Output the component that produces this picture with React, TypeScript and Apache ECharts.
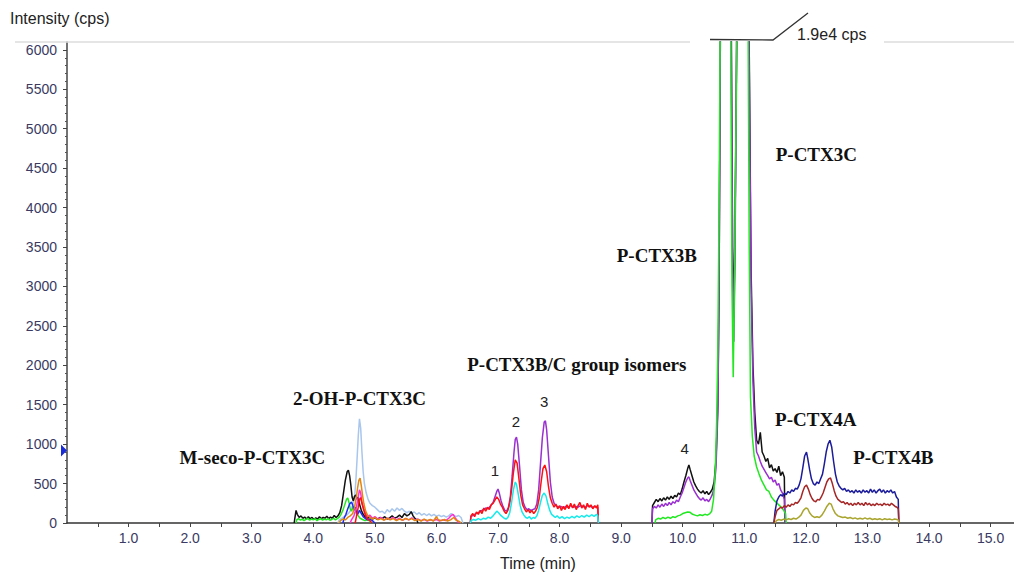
import React, { useEffect, useRef } from "react";
import * as echarts from "echarts";

type P = [number, number];

// ---------- Region A (≈3.7–6.45 min) ----------
const lightBlueA: P[] = [[4.40,0],[4.42,40],[4.46,60],[4.50,80],[4.54,100],[4.58,130],[4.62,180],[4.65,260],[4.67,330],[4.69,520],[4.71,800],[4.73,1100],[4.75,1320],[4.77,1200],[4.79,900],[4.81,650],[4.83,500],[4.86,380],[4.89,300],[4.92,250],[4.96,220],[5.00,200],[5.04,170],[5.08,140],[5.12,150],[5.16,120],[5.20,170],[5.24,140],[5.28,180],[5.32,150],[5.36,190],[5.40,160],[5.44,185],[5.48,150],[5.52,130],[5.56,150],[5.60,120],[5.64,140],[5.68,110],[5.72,130],[5.76,100],[5.80,120],[5.84,95],[5.88,115],[5.92,90],[5.96,110],[6.00,85],[6.04,100],[6.08,80],[6.12,95],[6.16,75],[6.20,90],[6.24,120],[6.28,100],[6.32,80],[6.36,95],[6.40,70],[6.43,0]];
const blackA: P[] = [[3.69,0],[3.70,60],[3.72,160],[3.74,110],[3.77,70],[3.80,90],[3.83,60],[3.86,75],[3.89,50],[3.92,80],[3.95,55],[3.98,70],[4.01,45],[4.04,65],[4.07,50],[4.10,80],[4.13,55],[4.16,70],[4.19,60],[4.22,85],[4.25,55],[4.28,75],[4.31,60],[4.34,95],[4.37,70],[4.40,90],[4.43,130],[4.46,220],[4.49,380],[4.52,540],[4.55,650],[4.57,670],[4.59,600],[4.61,480],[4.63,330],[4.65,280],[4.67,340],[4.69,355],[4.71,300],[4.73,330],[4.75,240],[4.78,160],[4.81,110],[4.84,80],[4.88,60],[4.92,75],[4.96,50],[5.00,65],[5.04,45],[5.08,70],[5.12,55],[5.16,80],[5.20,50],[5.24,65],[5.28,90],[5.32,60],[5.36,75],[5.40,100],[5.44,70],[5.48,120],[5.52,90],[5.56,110],[5.59,145],[5.62,90],[5.65,60],[5.68,40],[5.70,0]];
const greenA: P[] = [[3.72,0],[3.73,40],[3.76,55],[3.79,35],[3.82,50],[3.85,30],[3.88,45],[3.91,60],[3.94,35],[3.97,50],[4.00,40],[4.03,55],[4.06,30],[4.09,45],[4.12,55],[4.15,35],[4.18,50],[4.21,40],[4.24,55],[4.27,35],[4.30,45],[4.33,60],[4.36,40],[4.39,55],[4.42,70],[4.45,110],[4.48,160],[4.51,230],[4.54,300],[4.56,317],[4.58,260],[4.60,180],[4.62,150],[4.64,190],[4.66,210],[4.68,180],[4.70,120],[4.73,90],[4.76,60],[4.80,45],[4.84,30],[4.88,40],[4.92,25],[4.95,0]];
const blueA: P[] = [[4.48,0],[4.50,60],[4.53,110],[4.56,180],[4.59,240],[4.62,265],[4.64,230],[4.66,160],[4.68,200],[4.70,140],[4.72,110],[4.75,160],[4.78,120],[4.81,80],[4.84,60],[4.88,40],[4.92,50],[4.96,30],[5.00,0]];
const magentaA: P[] = [[4.60,0],[4.62,40],[4.66,90],[4.70,200],[4.73,330],[4.75,420],[4.77,380],[4.79,260],[4.82,180],[4.85,120],[4.88,80],[4.92,100],[4.96,60],[5.00,80],[5.05,50],[5.10,70],[5.15,40],[5.20,60],[5.25,45],[5.30,70],[5.35,40],[5.40,60],[5.45,35],[5.50,55],[5.55,40],[5.60,65],[5.65,35],[5.70,50],[5.75,30],[5.80,45],[5.85,25],[5.90,40],[5.95,30],[6.00,45],[6.05,25],[6.10,40],[6.15,30],[6.20,60],[6.24,95],[6.27,110],[6.30,70],[6.33,40],[6.36,0]];
const orangeA: P[] = [[4.42,0],[4.44,30],[4.48,50],[4.52,40],[4.56,70],[4.60,90],[4.64,120],[4.67,200],[4.70,330],[4.72,450],[4.74,540],[4.76,570],[4.78,470],[4.80,350],[4.82,250],[4.85,150],[4.88,100],[4.92,70],[4.96,50],[5.00,70],[5.05,40],[5.10,55],[5.15,35],[5.20,60],[5.25,40],[5.30,55],[5.35,30],[5.40,50],[5.45,35],[5.50,60],[5.55,40],[5.60,55],[5.65,30],[5.70,45],[5.75,25],[5.80,50],[5.85,30],[5.90,45],[5.95,25],[6.00,80],[6.03,40],[6.08,30],[6.13,45],[6.18,25],[6.23,40],[6.28,70],[6.32,35],[6.37,20],[6.40,0]];
const redA: P[] = [[4.68,0],[4.70,80],[4.73,200],[4.75,300],[4.77,320],[4.79,250],[4.82,160],[4.85,90],[4.88,50],[4.92,30],[4.95,0]];

// ---------- Region B (≈6.55–8.63 min), isomers 1–3 ----------
const purpleB: P[] = [[6.55,0],[6.56,80],[6.60,100],[6.64,120],[6.68,130],[6.72,150],[6.76,170],[6.80,190],[6.84,180],[6.88,220],[6.92,260],[6.95,330],[6.98,400],[7.00,430],[7.02,380],[7.05,280],[7.08,210],[7.11,160],[7.14,150],[7.17,200],[7.20,330],[7.23,600],[7.26,900],[7.28,1060],[7.30,1090],[7.32,1000],[7.35,720],[7.38,420],[7.41,260],[7.44,200],[7.47,170],[7.50,180],[7.53,160],[7.56,170],[7.60,180],[7.63,240],[7.66,420],[7.69,750],[7.72,1080],[7.75,1280],[7.77,1295],[7.79,1180],[7.82,850],[7.85,520],[7.88,330],[7.91,250],[7.94,220],[7.98,200],[8.02,210],[8.06,190],[8.10,210],[8.14,200],[8.18,220],[8.22,200],[8.26,210],[8.30,200],[8.34,220],[8.38,210],[8.42,200],[8.46,220],[8.50,210],[8.54,200],[8.58,210],[8.62,200],[8.63,0]];
const redB: P[] = [[6.55,0],[6.56,90],[6.59,120],[6.62,80],[6.65,140],[6.68,110],[6.71,160],[6.74,120],[6.77,190],[6.80,150],[6.83,200],[6.86,170],[6.89,230],[6.92,250],[6.95,290],[6.98,330],[7.01,300],[7.04,240],[7.07,200],[7.10,150],[7.13,120],[7.16,160],[7.19,250],[7.22,420],[7.25,640],[7.28,800],[7.31,760],[7.34,560],[7.37,350],[7.40,230],[7.43,180],[7.46,140],[7.49,170],[7.52,130],[7.55,160],[7.58,120],[7.61,150],[7.64,200],[7.67,320],[7.70,520],[7.73,690],[7.76,735],[7.79,650],[7.82,460],[7.85,320],[7.88,250],[7.91,200],[7.94,240],[7.97,180],[8.00,220],[8.03,160],[8.06,210],[8.09,170],[8.12,230],[8.15,180],[8.18,250],[8.21,190],[8.24,240],[8.27,170],[8.30,220],[8.33,260],[8.36,190],[8.39,230],[8.42,170],[8.45,250],[8.48,200],[8.51,230],[8.54,180],[8.57,220],[8.60,190],[8.62,230],[8.63,0]];
const cyanB: P[] = [[6.55,0],[6.56,30],[6.60,45],[6.64,35],[6.68,55],[6.72,40],[6.76,60],[6.80,50],[6.84,75],[6.88,60],[6.92,90],[6.95,120],[6.98,150],[7.01,130],[7.04,100],[7.07,80],[7.10,60],[7.13,50],[7.16,70],[7.19,130],[7.22,260],[7.25,420],[7.28,520],[7.30,490],[7.33,360],[7.36,220],[7.39,140],[7.42,100],[7.45,70],[7.48,60],[7.51,80],[7.54,50],[7.57,70],[7.60,60],[7.63,90],[7.66,160],[7.69,260],[7.72,350],[7.75,380],[7.78,340],[7.81,240],[7.84,160],[7.87,110],[7.90,90],[7.93,70],[7.96,90],[8.00,60],[8.04,80],[8.08,55],[8.12,75],[8.16,60],[8.20,85],[8.24,65],[8.28,90],[8.32,70],[8.36,95],[8.40,75],[8.44,100],[8.48,80],[8.52,105],[8.56,85],[8.60,110],[8.62,90],[8.63,0]];

// ---------- Region C (≈9.5–11.68 min), P-CTX3B / P-CTX3C ----------
const blackC: P[] = [[9.50,0],[9.51,220],[9.54,260],[9.57,300],[9.60,270],[9.63,310],[9.66,280],[9.69,320],[9.72,290],[9.75,330],[9.78,300],[9.81,340],[9.84,310],[9.87,350],[9.90,330],[9.93,380],[9.96,360],[9.99,430],[10.02,520],[10.05,600],[10.08,690],[10.10,735],[10.12,680],[10.15,600],[10.18,520],[10.21,470],[10.24,430],[10.27,400],[10.30,380],[10.33,410],[10.36,370],[10.39,400],[10.42,360],[10.45,390],[10.48,430],[10.51,520],[10.54,800],[10.57,1500],[10.59,3000],[10.61,6000],[10.65,15000],[10.70,19000],[10.75,13000],[10.79,6000],[10.81,3500],[10.83,2600],[10.85,3800],[10.88,6500],[10.93,15000],[10.99,19000],[11.04,11000],[11.08,6000],[11.11,3200],[11.14,2000],[11.17,1400],[11.20,1050],[11.23,1000],[11.26,1150],[11.29,900],[11.32,850],[11.35,780],[11.38,820],[11.41,700],[11.44,740],[11.47,660],[11.50,690],[11.53,640],[11.56,720],[11.59,600],[11.62,650],[11.65,580],[11.66,0]];
const purpleC: P[] = [[9.50,0],[9.51,180],[9.54,210],[9.57,190],[9.60,230],[9.63,200],[9.66,240],[9.69,210],[9.72,250],[9.75,220],[9.78,260],[9.81,230],[9.84,270],[9.87,250],[9.90,290],[9.93,270],[9.96,330],[9.99,380],[10.02,450],[10.05,520],[10.08,570],[10.10,585],[10.12,540],[10.15,480],[10.18,420],[10.21,380],[10.24,340],[10.27,310],[10.30,290],[10.33,320],[10.36,280],[10.39,300],[10.42,270],[10.45,310],[10.48,360],[10.51,450],[10.54,700],[10.57,1400],[10.59,2900],[10.61,6000],[10.65,15000],[10.70,19000],[10.75,13000],[10.79,6000],[10.81,3200],[10.83,2300],[10.85,3500],[10.88,6300],[10.93,15000],[10.99,19000],[11.04,11000],[11.08,5800],[11.11,3000],[11.14,1800],[11.17,1200],[11.20,900],[11.23,850],[11.26,780],[11.29,720],[11.32,680],[11.35,640],[11.38,600],[11.41,560],[11.44,580],[11.47,520],[11.50,545],[11.53,480],[11.56,500],[11.59,420],[11.62,380],[11.65,300],[11.66,0]];
const greenC: P[] = [[9.55,0],[9.56,40],[9.60,60],[9.64,50],[9.68,70],[9.72,55],[9.76,75],[9.80,60],[9.84,80],[9.88,70],[9.92,90],[9.96,100],[10.00,120],[10.04,130],[10.08,140],[10.12,135],[10.16,110],[10.20,100],[10.24,90],[10.28,105],[10.32,95],[10.36,110],[10.40,100],[10.44,120],[10.47,150],[10.50,300],[10.53,700],[10.55,1270],[10.57,2200],[10.59,4000],[10.61,6500],[10.65,15000],[10.70,19000],[10.75,12000],[10.78,6000],[10.80,3000],[10.82,1850],[10.84,3000],[10.87,5500],[10.91,12000],[10.96,19000],[11.02,13000],[11.06,6500],[11.08,3500],[11.10,1600],[11.13,1100],[11.16,850],[11.20,710],[11.24,620],[11.28,540],[11.32,480],[11.36,420],[11.40,400],[11.44,330],[11.48,290],[11.52,260],[11.56,230],[11.60,200],[11.64,160],[11.67,120],[11.68,0]];

// ---------- Region D (≈11.48–13.51 min), P-CTX4A / P-CTX4B ----------
const navyD: P[] = [[11.48,0],[11.50,150],[11.53,280],[11.56,330],[11.59,360],[11.62,340],[11.65,380],[11.68,360],[11.71,400],[11.74,380],[11.77,420],[11.80,400],[11.83,440],[11.86,430],[11.89,480],[11.92,560],[11.95,700],[11.98,850],[12.01,900],[12.03,820],[12.06,680],[12.09,560],[12.12,500],[12.15,480],[12.18,520],[12.21,500],[12.24,560],[12.27,620],[12.30,750],[12.33,900],[12.36,1000],[12.39,1050],[12.42,960],[12.45,780],[12.48,620],[12.51,520],[12.54,470],[12.57,440],[12.60,420],[12.63,440],[12.66,400],[12.69,420],[12.72,390],[12.75,410],[12.78,380],[12.81,420],[12.84,390],[12.87,410],[12.90,380],[12.93,420],[12.96,390],[12.99,410],[13.02,380],[13.05,430],[13.08,390],[13.11,420],[13.14,380],[13.17,410],[13.20,430],[13.23,390],[13.26,420],[13.29,380],[13.32,410],[13.35,390],[13.38,420],[13.41,380],[13.44,400],[13.47,330],[13.50,300],[13.51,0]];
const darkRedD: P[] = [[11.48,0],[11.50,80],[11.53,160],[11.56,180],[11.59,200],[11.62,190],[11.65,220],[11.68,200],[11.71,230],[11.74,210],[11.77,240],[11.80,230],[11.83,260],[11.86,250],[11.89,280],[11.92,320],[11.95,400],[11.98,460],[12.01,480],[12.04,430],[12.07,360],[12.10,310],[12.13,280],[12.16,270],[12.19,300],[12.22,290],[12.25,330],[12.28,380],[12.31,450],[12.34,520],[12.37,560],[12.40,570],[12.43,500],[12.46,410],[12.49,340],[12.52,300],[12.55,280],[12.58,260],[12.61,270],[12.64,240],[12.67,260],[12.70,230],[12.73,250],[12.76,220],[12.79,250],[12.82,230],[12.85,260],[12.88,230],[12.91,250],[12.94,220],[12.97,260],[13.00,230],[13.03,250],[13.06,220],[13.09,240],[13.12,220],[13.15,250],[13.18,230],[13.21,240],[13.24,220],[13.27,250],[13.30,230],[13.33,240],[13.36,220],[13.39,250],[13.42,230],[13.45,210],[13.48,200],[13.50,180],[13.51,0]];
const oliveD: P[] = [[11.50,0],[11.52,30],[11.56,45],[11.60,35],[11.64,50],[11.68,40],[11.72,55],[11.76,45],[11.80,60],[11.84,50],[11.88,70],[11.92,100],[11.96,160],[12.00,190],[12.03,180],[12.06,130],[12.10,90],[12.14,70],[12.18,80],[12.22,70],[12.26,100],[12.30,150],[12.34,210],[12.38,250],[12.41,240],[12.44,180],[12.48,120],[12.52,90],[12.56,80],[12.60,70],[12.64,75],[12.68,60],[12.72,70],[12.76,55],[12.80,65],[12.84,50],[12.88,60],[12.92,50],[12.96,65],[13.00,50],[13.04,60],[13.08,45],[13.12,55],[13.16,45],[13.20,55],[13.24,40],[13.28,55],[13.32,45],[13.36,50],[13.40,40],[13.44,50],[13.48,45],[13.50,40],[13.51,0]];

// ---------- Axes ----------
const xLabelValues = [1, 2, 3, 4, 5, 6, 7, 8, 9, 10, 11, 12, 13, 14, 15];
const xTickValues = [0.5, 1, 1.5, 2, 2.5, 3, 3.5, 4, 4.5, 5, 5.5, 6, 6.5, 7, 7.5, 8, 8.5, 9, 9.5, 10, 10.5, 11, 11.5, 12, 12.5, 13, 13.5, 14, 14.5, 15];
const yLabelValues = [0, 500, 1000, 1500, 2000, 2500, 3000, 3500, 4000, 4500, 5000, 5500, 6000];
const markerLevel = 920;

// ---------- Annotations [text, time, intensity] ----------
const compoundLabels: [string, number, number][] = [
  ["M-seco-P-CTX3C", 3.01, 825],
  ["2-OH-P-CTX3C", 4.75, 1585],
  ["P-CTX3B/C group isomers", 8.28, 2004],
  ["P-CTX3B", 9.58, 3387],
  ["P-CTX3C", 12.17, 4668],
  ["P-CTX4A", 12.16, 1307],
  ["P-CTX4B", 13.42, 837],
];
const isomerLabels: [string, number, number][] = [
  ["1", 6.95, 672],
  ["2", 7.29, 1281],
  ["3", 7.75, 1535],
  ["4", 10.03, 951],
];

const traces: { name: string; color: string; segs: P[][] }[] = [
  { name: "light blue", color: "#a9c6ec", segs: [lightBlueA] },
  { name: "black", color: "#111111", segs: [blackA] },
  { name: "green", color: "#22e822", segs: [greenA] },
  { name: "blue", color: "#1f2bf0", segs: [blueA] },
  { name: "magenta", color: "#ff2fd0", segs: [magentaA] },
  { name: "orange", color: "#e2860e", segs: [orangeA] },
  { name: "red", color: "#ff1010", segs: [redA] },
  { name: "purple", color: "#9a30d0", segs: [purpleB] },
  { name: "red B", color: "#ff1010", segs: [redB] },
  { name: "cyan", color: "#18eaea", segs: [cyanB] },
  { name: "black C", color: "#111111", segs: [blackC] },
  { name: "purple C", color: "#9a30d0", segs: [purpleC] },
  { name: "green C", color: "#22e822", segs: [greenC] },
  { name: "navy", color: "#1c1c9a", segs: [navyD] },
  { name: "dark red", color: "#a52626", segs: [darkRedD] },
  { name: "olive", color: "#a9a52e", segs: [oliveD] },
];

export default function App() {
  const ref = useRef<HTMLDivElement>(null);
  useEffect(() => {
    if (!ref.current) return;
    const chart = echarts.init(ref.current, undefined, { renderer: "svg" });
    const series: any[] = [];
    traces.forEach((tr, i) =>
      tr.segs.forEach((seg) =>
        series.push({
          type: "line",
          name: tr.name,
          data: seg,
          symbol: "none",
          showSymbol: false,
          silent: true,
          clip: true,
          z: 2 + i * 0.01,
          lineStyle: { color: tr.color, width: 1.5 },
          itemStyle: { color: tr.color },
        })
      )
    );
    const labelColor = "#3a3a62";
    chart.setOption({
      animation: false,
      backgroundColor: "#ffffff",
      grid: { left: 67, right: 0, top: 42, bottom: 51, containLabel: false },
      xAxis: {
        type: "value",
        min: 0,
        max: 15.38,
        interval: 0.5,
        splitLine: { show: false },
        axisLine: { show: true, lineStyle: { color: "#333", width: 1.5 } },
        axisTick: { show: true, customValues: xTickValues, length: 4, lineStyle: { color: "#444" } },
        axisLabel: {
          customValues: xLabelValues,
          formatter: (v: number) => v.toFixed(1),
          color: labelColor,
          fontSize: 14,
          fontFamily: "Liberation Sans, Arial, sans-serif",
          margin: 8,
        },
      },
      yAxis: {
        type: "value",
        min: 0,
        max: 6100,
        interval: 500,
        splitLine: { show: false },
        axisLine: { show: true, lineStyle: { color: "#444", width: 1.5 } },
        axisTick: { show: true, customValues: yLabelValues, length: 4, lineStyle: { color: "#444" } },
        minorTick: { show: true, splitNumber: 5, length: 2, lineStyle: { color: "#555" } },
        axisLabel: {
          customValues: yLabelValues,
          formatter: (v: number) => String(v),
          color: labelColor,
          fontSize: 14,
          fontFamily: "Liberation Sans, Arial, sans-serif",
          margin: 10,
        },
      },
      series,
    });

    const px = (t: number, v: number) => chart.convertToPixel({ gridIndex: 0 }, [t, v]) as number[];
    const graphics: any[] = [];
    compoundLabels.forEach(([text, t, v]) => {
      const [x, y] = px(t, v);
      graphics.push({
        type: "text",
        x,
        y,
        z: 50,
        style: {
          text,
          fill: "#111",
          font: "bold 19px 'Liberation Serif', 'Times New Roman', serif",
          align: "center",
          verticalAlign: "middle",
        },
      });
    });
    isomerLabels.forEach(([text, t, v]) => {
      const [x, y] = px(t, v);
      graphics.push({
        type: "text",
        x,
        y,
        z: 50,
        style: {
          text,
          fill: "#222",
          font: "15px 'Liberation Sans', Arial, sans-serif",
          align: "center",
          verticalAlign: "middle",
        },
      });
    });
    const [, my] = px(0, markerLevel);
    graphics.push({
      type: "polygon",
      z: 50,
      shape: { points: [[61, my - 6], [67, my], [61, my + 6]] },
      style: { fill: "#1a2bd8" },
    });
    // top frame line with break marker
    graphics.push(
      { type: "line", z: 1, shape: { x1: 15, y1: 42, x2: 690, y2: 42 }, style: { stroke: "#dcdcdc", lineWidth: 1.5 } },
      { type: "line", z: 1, shape: { x1: 884, y1: 42, x2: 1014, y2: 42 }, style: { stroke: "#dcdcdc", lineWidth: 1.5 } },
      { type: "polyline", z: 50, shape: { points: [[710, 39.5], [773, 40], [808, 13]] }, style: { stroke: "#333", lineWidth: 1.3, fill: null } },
      {
        type: "text",
        x: 797,
        y: 34,
        z: 50,
        style: { text: "1.9e4 cps", fill: "#222", font: "16px 'Liberation Sans', Arial, sans-serif", verticalAlign: "middle" },
      },
      {
        type: "text",
        x: 10,
        y: 18,
        z: 50,
        style: { text: "Intensity (cps)", fill: "#222", font: "16px 'Liberation Sans', Arial, sans-serif", verticalAlign: "middle" },
      },
      {
        type: "text",
        x: 538,
        y: 563,
        z: 50,
        style: { text: "Time (min)", fill: "#222", font: "16px 'Liberation Sans', Arial, sans-serif", align: "center", verticalAlign: "middle" },
      }
    );
    chart.setOption({ graphic: graphics });
    return () => chart.dispose();
  }, []);
  return (
    <div
      ref={ref}
      style={{ position: "fixed", left: 0, top: 0, width: 1014, height: 574, background: "#fff" }}
    />
  );
}
